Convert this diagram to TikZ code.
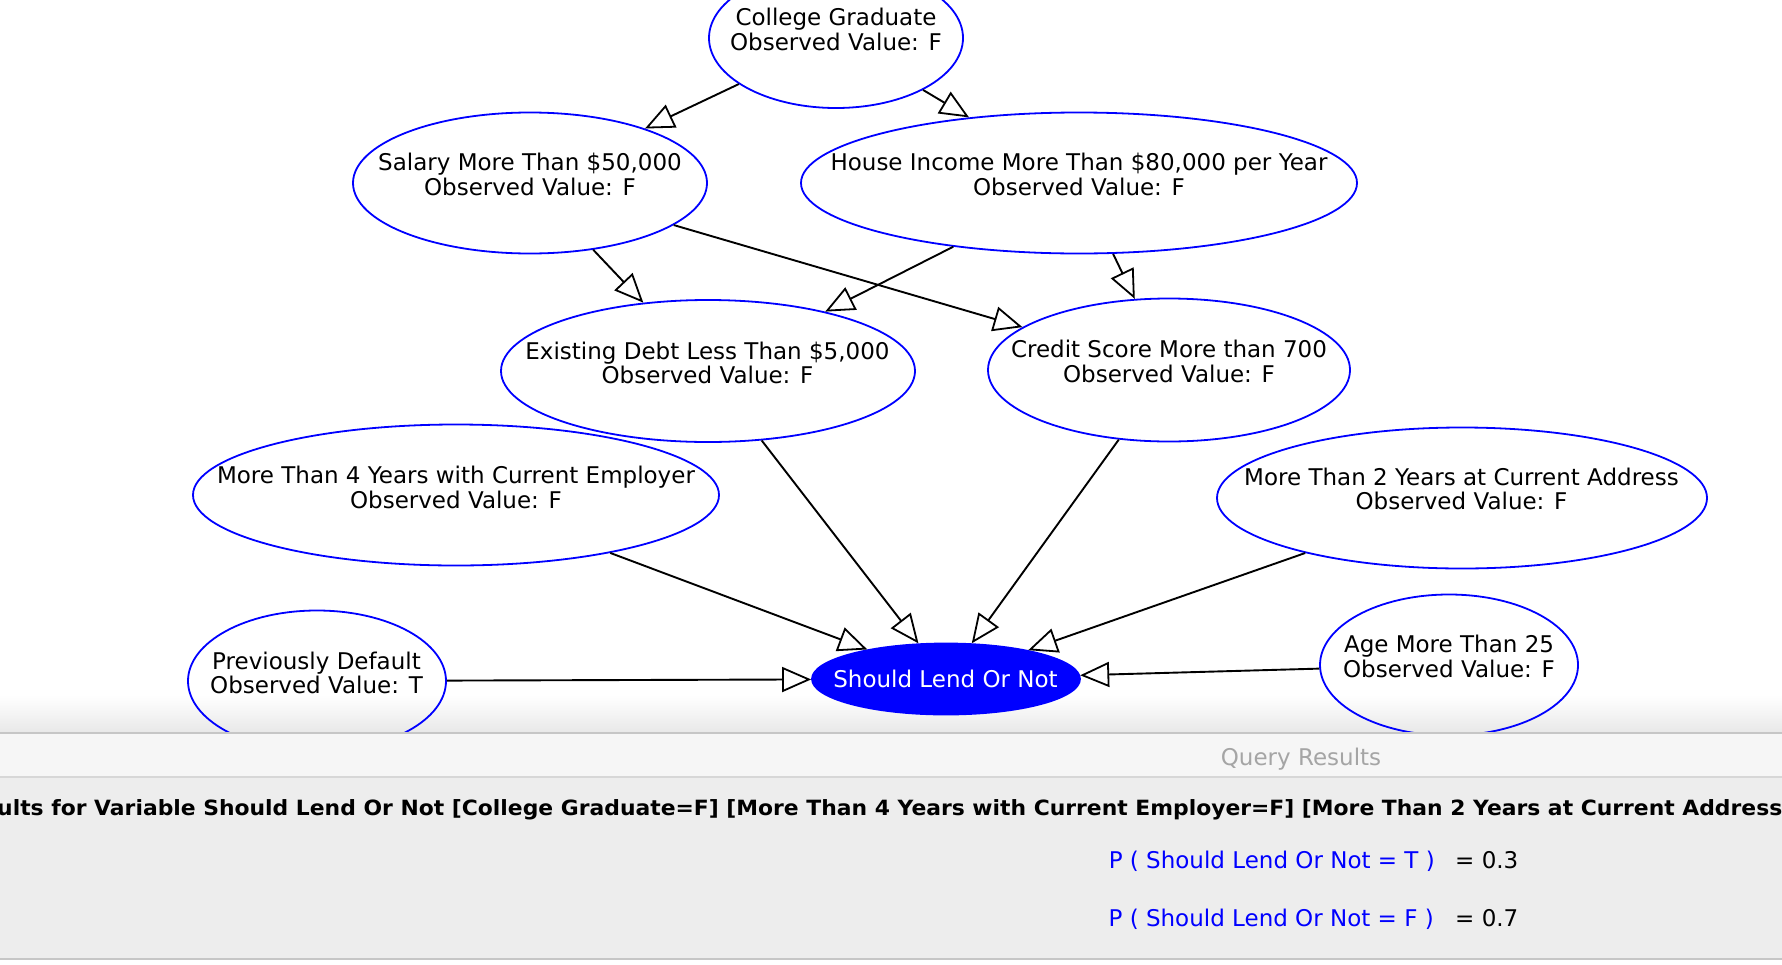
\documentclass[tikz,border=0pt]{standalone}
\usepackage{fontspec}
\setmainfont{DejaVu Sans}
\usetikzlibrary{arrows.meta,shapes.geometric}
\definecolor{nodeblue}{RGB}{0,0,255}
\definecolor{titlebar}{RGB}{246,246,246}
\definecolor{panelbg}{RGB}{237,237,237}
\definecolor{sepline}{RGB}{198,198,198}
\definecolor{titlegray}{RGB}{165,165,165}
\definecolor{shadegray}{RGB}{232,232,232}
\begin{document}
\begin{tikzpicture}[x=1pt,y=-1pt,
  ell/.style={draw=nodeblue, line width=1.8pt, ellipse, inner sep=0pt},
  lbl/.style={font=\fontsize{23}{24.5}\selectfont, align=center, inner sep=0pt, text=black},
  edge/.style={draw=black, line width=1.9pt, -{Triangle[open, length=29pt, width=25pt, line width=1.8pt]}},
  txt/.style={font=\fontsize{23}{24.5}\selectfont, inner sep=0pt},
]
\useasboundingbox (0,0) rectangle (1782,964);
\fill[white] (0,0) rectangle (1782,964);
\shade[top color=white, bottom color=shadegray] (0,695) rectangle (1782,733);

\begin{scope}
\clip (0,0) rectangle (1782,733);
% ellipses
\node[ell, minimum width=254pt, minimum height=140pt] (cg) at (836,38) {};
\node[ell, minimum width=354pt, minimum height=141pt] (sal) at (530,183) {};
\node[ell, minimum width=556pt, minimum height=141pt] (hi) at (1079,183) {};
\node[ell, minimum width=414pt, minimum height=142pt] (ed) at (708,371) {};
\node[ell, minimum width=362pt, minimum height=143pt] (cs) at (1169,370) {};
\node[ell, minimum width=526pt, minimum height=141pt] (m4) at (456,495) {};
\node[ell, minimum width=490pt, minimum height=141pt] (m2) at (1462,498) {};
\node[ell, minimum width=258pt, minimum height=141pt] (pd) at (317,681) {};
\node[ell, minimum width=258pt, minimum height=141pt] (age) at (1449,665) {};
\node[ell, fill=nodeblue, minimum width=268pt, minimum height=71pt] (sl) at (946,679) {};
% labels
\node[lbl] (cgl) at (836,29.5) {College Graduate\\Observed Value: F};
\node[lbl] (sall) at (530,174.5) {Salary More Than \$50,000\\Observed Value: F};
\node[lbl] (hil) at (1079,174.5) {House Income More Than \$80,000 per Year\\Observed Value: F};
\node[lbl] (edl) at (707.5,363) {Existing Debt Less Than \$5,000\\Observed Value: F};
\node[lbl] (csl) at (1169,361.5) {Credit Score More than 700\\Observed Value: F};
\node[lbl] (m4l) at (456,487.5) {More Than 4 Years with Current Employer\\Observed Value: F};
\node[lbl] (m2l) at (1461.5,489) {More Than 2 Years at Current Address\\Observed Value: F};
\node[lbl] (pdl) at (316.5,673) {Previously Default\\Observed Value: T};
\node[lbl] (agel) at (1449,656.5) {Age More Than 25\\Observed Value: F};
\node[lbl, text=white] (sll) at (945.5,678.5) {Should Lend Or Not};
% edges
\draw[edge] (cg) -- (sal);
\draw[edge] (cg) -- (hi);
\draw[edge] (sal) -- (ed);
\draw[edge] (sal) -- (cs);
\draw[edge] (hi) -- (ed);
\draw[edge] (hi) -- (cs);
\draw[edge] (ed) -- (sl);
\draw[edge] (cs) -- (sl);
\draw[edge] (m4) -- (sl);
\draw[edge] (m2) -- (sl);
\draw[edge] (pd) -- (sl);
\draw[edge] (age) -- (sl);
\end{scope}

% query results panel
\fill[titlebar] (0,733) rectangle (1782,777);
\fill[panelbg] (0,777) rectangle (1782,959);
\draw[sepline, line width=1.5pt] (0,733) -- (1782,733);
\draw[sepline!70, line width=1.2pt] (0,777) -- (1782,777);
\draw[sepline, line width=1.5pt] (0,959) -- (1782,959);
\node[txt, text=titlegray, anchor=base] (qr) at (1301,765.5) {Query Results};
\node[inner sep=0pt, anchor=base west] (hdr) at (-3,815)
  {\resizebox{1785pt}{\height}{\fontsize{21}{24}\selectfont\bfseries ults for Variable Should Lend Or Not [College Graduate=F] [More Than 4 Years with Current Employer=F] [More Than 2 Years at Current Address}};
\node[txt, text=nodeblue, anchor=base east] (pt) at (1435,868) {P ( Should Lend Or Not = T )};
\node[txt, anchor=base west] (vt) at (1455,868) {= 0.3};
\node[txt, text=nodeblue, anchor=base east] (pf) at (1434,926) {P ( Should Lend Or Not = F )};
\node[txt, anchor=base west] (vf) at (1455,926) {= 0.7};
\end{tikzpicture}
\end{document}
